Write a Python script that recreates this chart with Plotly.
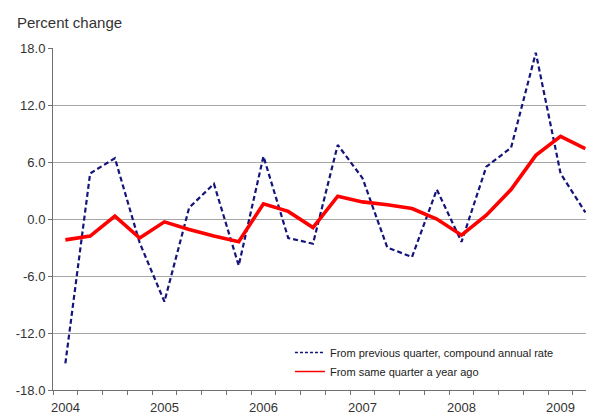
import plotly.graph_objects as go

quarters = ["2004Q1","2004Q2","2004Q3","2004Q4","2005Q1","2005Q2","2005Q3","2005Q4",
            "2006Q1","2006Q2","2006Q3","2006Q4","2007Q1","2007Q2","2007Q3","2007Q4",
            "2008Q1","2008Q2","2008Q3","2008Q4","2009Q1","2009Q2"]
prev_quarter = [-15.2, 4.8, 6.4, -2.5, -8.7, 1.2, 3.7, -4.9,
                6.6, -2.0, -2.6, 7.8, 4.3, -3.0, -4.0, 3.1,
                -2.4, 5.5, 7.5, 17.5, 4.8, 0.7]
year_ago = [-2.2, -1.8, 0.3, -2.0, -0.3, -1.1, -1.8, -2.4,
            1.6, 0.8, -0.9, 2.4, 1.8, 1.5, 1.1, 0.0,
            -1.7, 0.4, 3.1, 6.7, 8.7, 7.4]
year_labels = ["2004", "2005", "2006", "2007", "2008", "2009"]
yticks = [-18, -12, -6, 0, 6, 12, 18]
names = ["From previous quarter, compound annual rate", "From same quarter a year ago"]

xs = list(range(len(quarters)))

fig = go.Figure()
fig.add_trace(go.Scatter(
    x=xs, y=prev_quarter, mode="lines", name=names[0], showlegend=False,
    line=dict(color="#14147a", width=2.2, dash="5px,3px"),
))
fig.add_trace(go.Scatter(
    x=xs, y=year_ago, mode="lines", name=names[1], showlegend=False,
    line=dict(color="#ff0000", width=3.6),
))
# legend-only entries with thinner sample lines, as in the original legend
fig.add_trace(go.Scatter(
    x=[None], y=[None], mode="lines", name=names[0],
    line=dict(color="#14147a", width=1.3, dash="3px,2px"),
))
fig.add_trace(go.Scatter(
    x=[None], y=[None], mode="lines", name=names[1],
    line=dict(color="#ff0000", width=1.5),
))

tick_bounds = [i - 0.5 for i in range(len(quarters) + 1)]

fig.update_layout(
    width=586, height=406,
    margin=dict(l=45, r=0, t=40, b=24),
    paper_bgcolor="white", plot_bgcolor="white",
    font=dict(family="Liberation Sans, Arial, sans-serif", color="#333333"),
    showlegend=True,
    legend=dict(
        x=0.438, y=0.152, xanchor="left", yanchor="top",
        bgcolor="rgba(255,255,255,0)", borderwidth=0,
        font=dict(size=11, color="#222222"),
        tracegroupgap=0,
    ),
    xaxis=dict(
        range=[-0.5, 21.35],
        tickmode="array", tickvals=tick_bounds, ticktext=[""] * len(tick_bounds),
        ticks="outside", ticklen=4, tickcolor="#707070", tickwidth=1,
        showgrid=False, showline=True, linecolor="#707070", linewidth=1,
        zeroline=False,
    ),
    yaxis=dict(
        range=[-18, 18],
        tickmode="array", tickvals=yticks, ticktext=[f"{v:.1f}" for v in yticks],
        ticks="outside", ticklen=4, tickcolor="#707070",
        showgrid=True, gridcolor="#a6a6a6", gridwidth=1.2,
        showline=True, linecolor="#707070", linewidth=1,
        zeroline=False,
        tickfont=dict(size=13, color="#333333"),
    ),
)

for i, lab in enumerate(year_labels):
    fig.add_annotation(
        x=i * 4, y=0, xref="x", yref="paper",
        text=lab, showarrow=False, yanchor="top", yshift=-8,
        font=dict(size=13, color="#333333"),
    )

fig.add_annotation(
    xref="paper", yref="paper", x=0, y=1, xanchor="left", yanchor="middle",
    xshift=-38, yshift=26,
    text="Percent change", showarrow=False,
    font=dict(size=15, color="#333333"),
)

fig.write_html("out.html")
